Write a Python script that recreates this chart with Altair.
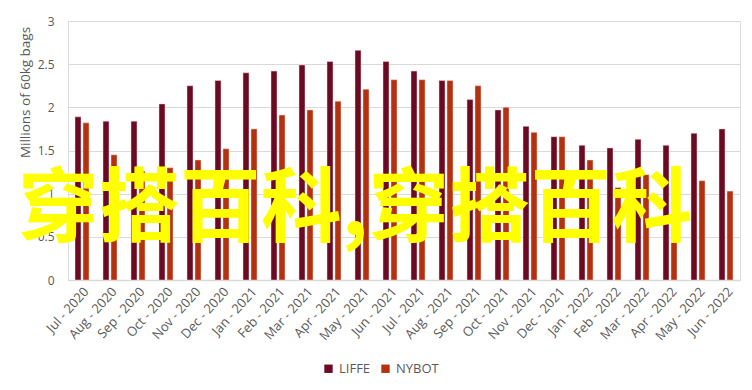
import altair as alt
import pandas as pd

months = ["Jul - 2020", "Aug - 2020", "Sep - 2020", "Oct - 2020", "Nov - 2020", "Dec - 2020",
          "Jan - 2021", "Feb - 2021", "Mar - 2021", "Apr - 2021", "May - 2021", "Jun - 2021",
          "Jul - 2021", "Aug - 2021", "Sep - 2021", "Oct - 2021", "Nov - 2021", "Dec - 2021",
          "Jan - 2022", "Feb - 2022", "Mar - 2022", "Apr - 2022", "May - 2022", "Jun - 2022"]
liffe = [1.89, 1.84, 1.84, 2.04, 2.25, 2.31, 2.40, 2.42, 2.49, 2.53, 2.66, 2.53,
         2.42, 2.31, 2.09, 1.97, 1.78, 1.66, 1.56, 1.53, 1.63, 1.56, 1.70, 1.75]
nybot = [1.82, 1.45, 1.26, 1.30, 1.39, 1.52, 1.75, 1.91, 1.97, 2.07, 2.21, 2.32,
         2.32, 2.31, 2.25, 2.00, 1.71, 1.66, 1.39, 1.07, 1.22, 1.19, 1.15, 1.03]
series = ["LIFFE", "NYBOT"]
colors = ["#6B0A22", "#B3310E"]
watermark = ["穿搭百科,穿搭百科"]

rows = []
for i, m in enumerate(months):
    rows.append({"month": m, "series": "LIFFE", "value": liffe[i]})
    rows.append({"month": m, "series": "NYBOT", "value": nybot[i]})
df = pd.DataFrame(rows)

gray = "#595959"

bars = alt.Chart(df).mark_bar(stroke="#f2d6d6", strokeWidth=0.5).encode(
    x=alt.X("month:N", sort=months,
            scale=alt.Scale(paddingInner=0.5, paddingOuter=0.25),
            axis=alt.Axis(title=None, labelAngle=-48, labelAlign="right", labelBaseline="top",
                          labelColor=gray, labelFontSize=13, labelFont="Open Sans",
                          ticks=False, domainColor="#d9d9d9", domainWidth=1.5,
                          labelPadding=5)),
    xOffset=alt.XOffset("series:N", sort=series,
                        scale=alt.Scale(paddingInner=0.25, paddingOuter=0)),
    y=alt.Y("value:Q", scale=alt.Scale(domain=[0, 3]),
            axis=alt.Axis(title="Millions of 60kg bags", values=[0, 0.5, 1, 1.5, 2, 2.5, 3],
                          format="~g", labelColor=gray, labelFontSize=12, labelFont="Open Sans",
                          ticks=False, domain=False, gridColor="#d9d9d9", gridWidth=1.2,
                          labelPadding=14, titleColor=gray, titleFont="Open Sans",
                          titleFontSize=13.5, titleFontWeight="normal",
                          titleX=-43, titleY=71, titleBaseline="middle")),
    color=alt.Color("series:N", sort=series,
                    scale=alt.Scale(domain=series, range=colors),
                    legend=alt.Legend(title=None, orient="none", direction="horizontal",
                                      legendX=254, legendY=341, symbolType="square",
                                      symbolSize=70, symbolStrokeWidth=0,
                                      labelColor=gray, labelFontSize=13,
                                      labelFont="Open Sans", columnPadding=8,
                                      labelOffset=4)),
)

wm = alt.Chart(pd.DataFrame({"t": watermark})).mark_text(
    font="Noto Sans CJK SC", fontWeight="bold", fontSize=81, color="#FFFF00",
    align="center", baseline="middle"
).encode(text="t:N", x=alt.value(287), y=alt.value(190))

chart = alt.layer(bars, wm).properties(
    width=672, height=259,
    autosize=alt.AutoSizeParams(type="none"),
    padding={"left": 60, "top": 13, "right": 4, "bottom": 102},
).configure_view(stroke=None).configure(background="white")

chart.save("out.html", embed_options={"renderer": "svg", "actions": False})
